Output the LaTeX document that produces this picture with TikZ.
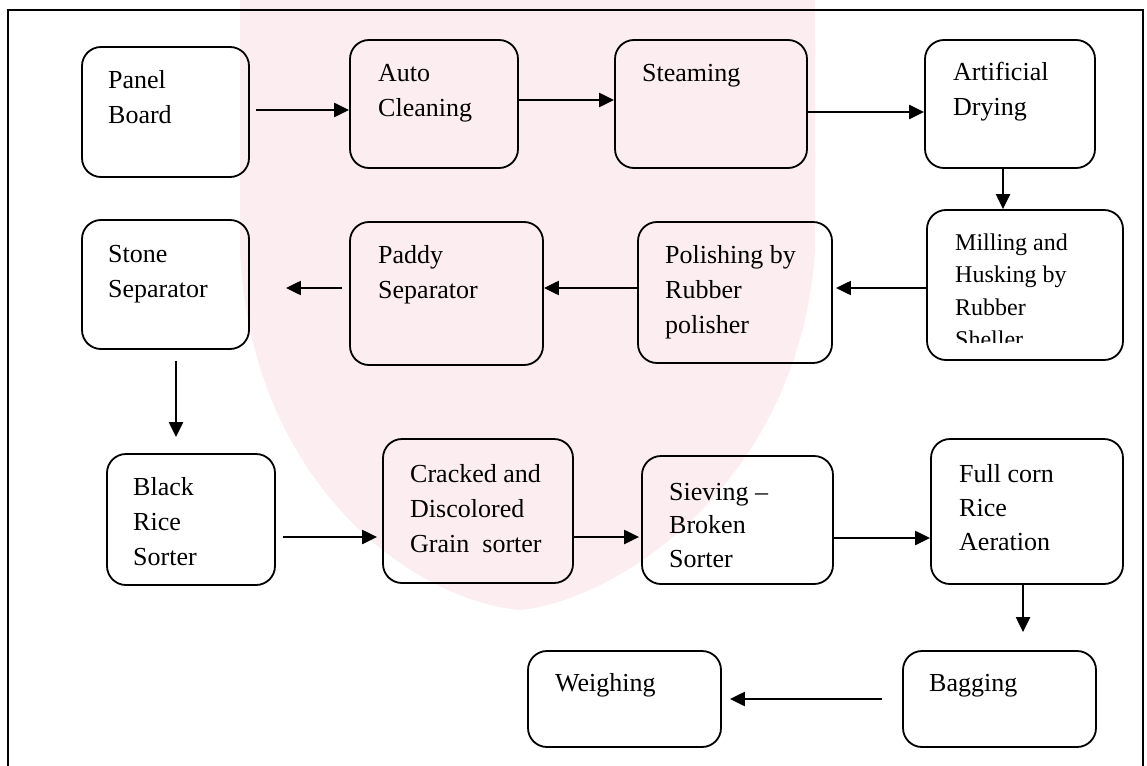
\documentclass[tikz,border=0pt]{standalone}
\usepackage{fontspec}
\setmainfont{Liberation Serif}
\usetikzlibrary{arrows.meta}
\definecolor{wmpink}{HTML}{FCEDF0}
\newcommand\procbox[5]{\node[box, minimum width=#4, minimum height=#5] (#1) at (#2,#3) {};}
\newcommand\proctext[4]{\node[txt] (#1) at (#2,#3) {\begin{tabular}[t]{@{}l@{}}#4\end{tabular}};}
\begin{document}
\begin{tikzpicture}[x=1pt,y=-1pt,
  box/.style={draw, line width=1.8pt, rounded corners=19pt, inner sep=0pt},
  txt/.style={anchor=base west, inner sep=0pt, font=\fontsize{26}{35}\selectfont},
  arr/.style={line width=2.2pt, -{Triangle[length=15pt,width=14pt]}},
  frame/.style={line width=2pt}
]
\useasboundingbox (0,0) rectangle (1147,765);
\fill[white] (0,0) rectangle (1147,765);
% faint background mark
\fill[wmpink] (240,0) -- (815,0) -- (815,250) .. controls (800,480) and (620,600) .. (520,610) .. controls (410,600) and (250,480) .. (240,250) -- cycle;
% frame
\draw[frame] (8,770) -- (8,10) -- (1143,10) -- (1143,770);
% boxes
\procbox{panel}{165.5}{112}{167pt}{130pt}
\procbox{auto}{434}{104}{168pt}{128pt}
\procbox{steam}{711}{104}{192pt}{128pt}
\procbox{artif}{1010}{104}{170pt}{128pt}
\procbox{mill}{1025}{285}{196pt}{150pt}
\procbox{polish}{735}{292.5}{194pt}{141pt}
\procbox{paddy}{446.5}{293.5}{193pt}{143pt}
\procbox{stone}{165.5}{284.5}{167pt}{129pt}
\procbox{black}{191}{519.5}{168pt}{131pt}
\procbox{cracked}{478}{511}{190pt}{144pt}
\procbox{sieve}{737.5}{520}{191pt}{128pt}
\procbox{full}{1027}{511.5}{192pt}{145pt}
\procbox{bag}{999.5}{699}{193pt}{96pt}
\procbox{weigh}{624.5}{699}{193pt}{96pt}
% texts
\proctext{panel-t}{108}{89}{Panel\\Board}
\proctext{auto-t}{378}{82}{Auto\\Cleaning}
\proctext{steam-t}{642}{82}{Steaming}
\proctext{artif-t}{953}{81}{Artificial\\Drying}
\begin{scope}
\clip (930,215) rectangle (1120,342);
\node[txt, font=\fontsize{24}{32.5}\selectfont] (mill-t) at (955,250) {\begin{tabular}[t]{@{}l@{}}Milling and\\Husking by\\Rubber\\Sheller\end{tabular}};
\end{scope}
\proctext{polish-t}{665}{263}{Polishing by\\Rubber\\polisher}
\proctext{paddy-t}{378}{263}{Paddy\\Separator}
\proctext{stone-t}{108}{262}{Stone\\Separator}
\proctext{black-t}{133}{495}{Black\\Rice\\Sorter}
\proctext{cracked-t}{410}{482}{Cracked and\\Discolored\\Grain\ \ sorter}
\node[txt, font=\fontsize{26}{33.5}\selectfont] (sieve-t) at (669,500) {\begin{tabular}[t]{@{}l@{}}Sieving –\\Broken\\Sorter\end{tabular}};
\node[txt, font=\fontsize{26}{34}\selectfont] (full-t) at (959,482) {\begin{tabular}[t]{@{}l@{}}Full corn\\Rice\\Aeration\end{tabular}};
\proctext{weigh-t}{555}{691}{Weighing}
\proctext{bag-t}{929}{691}{Bagging}
% arrows
\draw[arr, shorten <=6pt] (panel.east |- 0,110) -- (auto.west |- 0,110);
\draw[arr] (auto.east |- 0,100) -- (steam.west |- 0,100);
\draw[arr] (steam.east |- 0,112) -- (artif.west |- 0,112);
\draw[arr] (artif.south -| 1003,0) -- (mill.north -| 1003,0);
\draw[arr, shorten >=3pt] (mill.west |- 0,288) -- (polish.east |- 0,288);
\draw[arr] (polish.west |- 0,288) -- (paddy.east |- 0,288);
\draw[arr, shorten <=7pt, shorten >=36pt] (paddy.west |- 0,288) -- (stone.east |- 0,288);
\draw[arr, shorten <=11pt, shorten >=16pt] (stone.south -| 176,0) -- (black.north -| 176,0);
\draw[arr, shorten <=7pt, shorten >=5pt] (black.east |- 0,537) -- (cracked.west |- 0,537);
\draw[arr, shorten >=2pt] (cracked.east |- 0,537) -- (sieve.west |- 0,537);
\draw[arr] (sieve.east |- 0,538) -- (full.west |- 0,538);
\draw[arr, shorten >=18pt] (full.south -| 1023,0) -- (bag.north -| 1023,0);
\draw[arr, shorten <=20pt, shorten >=8pt] (bag.west |- 0,699) -- (weigh.east |- 0,699);
\end{tikzpicture}
\end{document}
